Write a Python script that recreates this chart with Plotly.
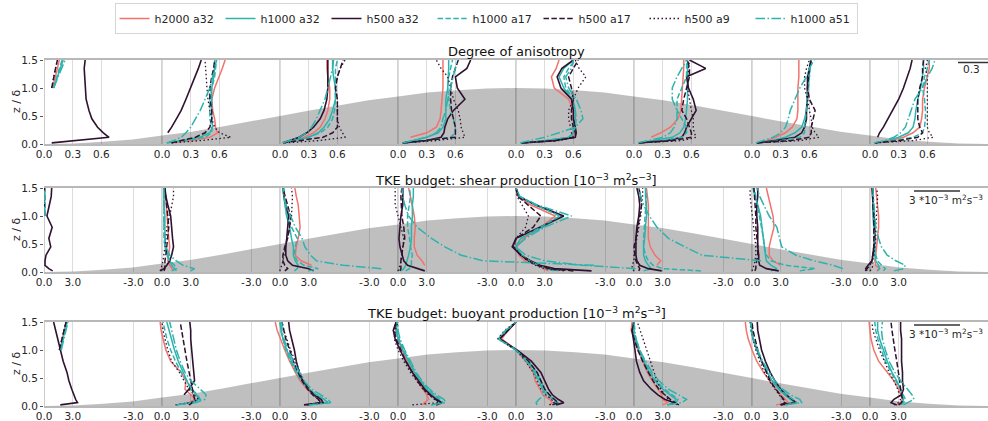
import plotly.graph_objects as go

N = None
# vertical levels (z / delta) shared by all profiles
Z = [0.02, 0.06, 0.12, 0.2, 0.3, 0.45, 0.6, 0.8, 1.0, 1.2, 1.35, 1.5]
# station positions along the hill (profile origins)
STATIONS = [-4, -3, -2, -1, 0, 1, 2, 3]
# hill outline (background)
HILL_X = [-4, -3.75, -3.5, -3.25, -3, -2.75, -2.5, -2.25, -2, -1.75, -1.5, -1.25, -1, -0.75, -0.5, -0.25,
          0, 0.25, 0.5, 0.75, 1, 1.25, 1.5, 1.75, 2, 2.25, 2.5, 2.75, 3, 3.25, 3.5, 3.75, 4]
HILL_Z = [0, 0.01, 0.04, 0.08, 0.15, 0.22, 0.31, 0.40, 0.5, 0.6, 0.69, 0.78, 0.85, 0.92, 0.96, 0.99,
          1.0, 0.99, 0.96, 0.92, 0.85, 0.78, 0.69, 0.6, 0.5, 0.40, 0.31, 0.22, 0.15, 0.08, 0.04, 0.01, 0]

SERIES = ["h2000 a32", "h1000 a32", "h500 a32", "h1000 a17", "h500 a17", "h500 a9", "h1000 a51"]
TOP_ONLY = [N] * 8

# ---------------- Degree of anisotropy ----------------
ANISO_H2000_A32 = [TOP_ONLY + [0.09, 0.12, 0.14, 0.16],
                   [0.1, 0.3, 0.5, 0.58, 0.56, 0.55, 0.53, 0.52, 0.55, 0.6, 0.63, 0.66],
                   [0.03, 0.12, 0.25, 0.35, 0.42, 0.47, 0.5, 0.52, 0.52, 0.5, 0.49, 0.49],
                   [N, N, 0.13, 0.3, 0.4, 0.44, 0.45, 0.46, 0.47, 0.47, 0.47, 0.47],
                   [0.05, 0.35, 0.58, 0.6, 0.6, 0.6, 0.6, 0.55, 0.4, 0.37, 0.42, 0.45],
                   [N, N, 0.18, 0.28, 0.38, 0.46, 0.49, 0.5, 0.51, 0.52, 0.52, 0.52],
                   [0.05, 0.15, 0.25, 0.35, 0.42, 0.47, 0.48, 0.48, 0.48, 0.49, 0.49, 0.49],
                   [0.05, 0.2, 0.35, 0.45, 0.52, 0.54, 0.55, 0.55, 0.57, 0.6, 0.62, 0.62]]
ANISO_H1000_A32 = [TOP_ONLY + [0.1, 0.14, 0.17, 0.2],
                   [0.05, 0.2, 0.4, 0.5, 0.53, 0.52, 0.52, 0.52, 0.52, 0.54, 0.55, 0.55],
                   [0.03, 0.15, 0.3, 0.4, 0.46, 0.52, 0.55, 0.58, 0.58, 0.56, 0.55, 0.55],
                   [0.05, 0.15, 0.3, 0.42, 0.47, 0.5, 0.5, 0.5, 0.52, 0.53, 0.53, 0.53],
                   [0.05, 0.3, 0.57, 0.6, 0.6, 0.62, 0.62, 0.58, 0.5, 0.45, 0.5, 0.6],
                   [0.05, 0.2, 0.4, 0.48, 0.52, 0.54, 0.55, 0.56, 0.56, 0.56, 0.56, 0.56],
                   [0.05, 0.2, 0.35, 0.45, 0.52, 0.55, 0.57, 0.58, 0.58, 0.6, 0.6, 0.62],
                   [0.05, 0.18, 0.3, 0.4, 0.45, 0.47, 0.48, 0.5, 0.53, 0.55, 0.56, 0.56]]
ANISO_H500_A32 = [[0.08, 0.35, 0.68, 0.62, 0.56, 0.5, 0.47, 0.44, 0.43, 0.42, 0.42, 0.43],
                  [N, N, N, 0.06, 0.1, 0.15, 0.2, 0.25, 0.3, 0.35, 0.38, 0.41],
                  [0.03, 0.1, 0.2, 0.28, 0.35, 0.42, 0.46, 0.49, 0.5, 0.5, 0.5, 0.5],
                  [0.05, 0.3, 0.45, 0.48, 0.49, 0.52, 0.58, 0.7, 0.62, 0.6, 0.72, 0.76],
                  [0.07, 0.4, 0.62, 0.63, 0.62, 0.6, 0.6, 0.58, 0.47, 0.43, 0.48, 0.6],
                  [0.05, 0.35, 0.5, 0.53, 0.55, 0.6, 0.65, 0.62, 0.57, 0.55, 0.75, 0.58],
                  [0.05, 0.25, 0.45, 0.52, 0.55, 0.57, 0.57, 0.58, 0.58, 0.58, 0.6, 0.62],
                  [N, N, 0.08, 0.1, 0.14, 0.19, 0.24, 0.3, 0.35, 0.39, 0.42, 0.44]]
ANISO_H1000_A17 = [TOP_ONLY + [0.1, 0.13, 0.16, 0.19],
                   [0.05, 0.25, 0.45, 0.52, 0.52, 0.5, 0.5, 0.5, 0.52, 0.55, 0.56, 0.57],
                   [0.03, 0.15, 0.3, 0.42, 0.5, 0.55, 0.57, 0.58, 0.58, 0.58, 0.58, 0.6],
                   [0.05, 0.3, 0.55, 0.6, 0.6, 0.58, 0.55, 0.53, 0.52, 0.53, 0.55, 0.57],
                   [0.05, 0.3, 0.55, 0.6, 0.62, 0.63, 0.62, 0.6, 0.52, 0.5, 0.55, 0.62],
                   [0.05, 0.3, 0.5, 0.55, 0.55, 0.5, 0.45, 0.45, 0.5, 0.55, 0.55, 0.55],
                   [0.05, 0.3, 0.5, 0.55, 0.55, 0.56, 0.57, 0.58, 0.59, 0.6, 0.61, 0.62],
                   [0.05, 0.25, 0.45, 0.55, 0.57, 0.58, 0.58, 0.57, 0.55, 0.57, 0.6, 0.62]]
ANISO_H500_A17 = [TOP_ONLY + [0.08, 0.1, 0.12, 0.14],
                  [0.1, 0.2, 0.35, 0.45, 0.5, 0.52, 0.52, 0.5, 0.5, 0.52, 0.54, 0.55],
                  [0.03, 0.2, 0.45, 0.55, 0.6, 0.6, 0.6, 0.6, 0.58, 0.6, 0.63, 0.66],
                  [0.05, 0.3, 0.6, 0.6, 0.6, 0.58, 0.56, 0.55, 0.55, 0.57, 0.6, 0.63],
                  [0.06, 0.4, 0.62, 0.62, 0.6, 0.58, 0.58, 0.6, 0.58, 0.55, 0.6, 0.65],
                  [0.05, 0.4, 0.6, 0.6, 0.58, 0.55, 0.5, 0.52, 0.55, 0.58, 0.58, 0.56],
                  [0.05, 0.4, 0.6, 0.62, 0.62, 0.64, 0.66, 0.6, 0.58, 0.59, 0.6, 0.62],
                  [0.05, 0.3, 0.5, 0.55, 0.52, 0.5, 0.5, 0.5, 0.52, 0.55, 0.55, 0.56]]
ANISO_H500_A9 = [TOP_ONLY + [0.08, 0.1, 0.12, 0.14],
                 [0.1, 0.4, 0.72, 0.6, 0.55, 0.52, 0.5, 0.48, 0.47, 0.46, 0.45, 0.45],
                 [0.05, 0.4, 0.68, 0.65, 0.62, 0.6, 0.6, 0.6, 0.58, 0.6, 0.63, 0.68],
                 [0.05, 0.4, 0.7, 0.68, 0.66, 0.65, 0.63, 0.58, 0.55, 0.52, 0.45, 0.4],
                 [0.06, 0.45, 0.6, 0.58, 0.57, 0.55, 0.55, 0.6, 0.65, 0.73, 0.66, 0.62],
                 [0.05, 0.5, 0.65, 0.63, 0.62, 0.62, 0.6, 0.58, 0.56, 0.57, 0.57, 0.58],
                 [0.06, 0.5, 0.7, 0.66, 0.63, 0.62, 0.6, 0.58, 0.55, 0.55, 0.57, 0.6],
                 [0.06, 0.45, 0.66, 0.62, 0.6, 0.6, 0.6, 0.6, 0.6, 0.6, 0.58, 0.6]]
ANISO_H1000_A51 = [TOP_ONLY + [0.1, 0.15, 0.18, 0.22],
                   [0.05, 0.12, 0.2, 0.25, 0.3, 0.35, 0.4, 0.45, 0.5, 0.53, 0.55, 0.57],
                   [0.03, 0.1, 0.2, 0.28, 0.33, 0.38, 0.42, 0.47, 0.5, 0.53, 0.55, 0.56],
                   [0.05, 0.15, 0.3, 0.4, 0.45, 0.47, 0.5, 0.52, 0.55, 0.58, 0.6, 0.62],
                   [0.04, 0.15, 0.3, 0.45, 0.62, 0.7, 0.68, 0.63, 0.55, 0.52, 0.58, 0.6],
                   [0.04, 0.15, 0.3, 0.38, 0.42, 0.45, 0.45, 0.4, 0.4, 0.45, 0.5, 0.55],
                   [0.04, 0.12, 0.22, 0.3, 0.35, 0.38, 0.4, 0.45, 0.5, 0.57, 0.6, 0.65],
                   [0.04, 0.15, 0.25, 0.32, 0.37, 0.4, 0.43, 0.47, 0.55, 0.6, 0.65, 0.68]]

# ---------------- TKE shear production [1e-3 m2 s-3] ----------------
SHEAR_H2000_A32 = [TOP_ONLY + [0.05, 0.05, 0.05, 0.05],
                   [1.2, 1.0, 0.8, 0.6, 0.7, 0.8, 0.7, 0.6, 0.5, 0.4, 0.4, 0.3],
                   [N, N, 3.3, 2.2, 1.6, 1.7, 1.9, 2.1, 2.0, 1.9, 1.7, 1.55],
                   [N, N, 2.8, 2.5, 2.0, 1.7, 1.7, 1.8, 1.7, 1.5, 1.3, 1.1],
                   [3.4, 2.8, 2.4, 0.9, 0.3, 0.1, 0.8, 2.6, 4.1, 1.5, 0.2, 0.0],
                   [N, N, 2.4, 2.8, 2.2, 1.7, 1.5, 1.5, 1.5, 1.5, 1.4, 1.3],
                   [N, N, 3.0, 2.2, 1.8, 1.8, 2.0, 2.3, 2.2, 1.9, 1.7, 1.5],
                   [0.7, 1.0, 0.6, 0.5, 0.6, 0.7, 0.8, 0.9, 0.9, 0.8, 0.7, 0.6]]
SHEAR_H1000_A32 = [TOP_ONLY + [0.05, 0.05, 0.05, 0.05],
                   [1.5, 1.3, 1.0, 0.8, 0.6, 0.4, 0.3, 0.3, 0.3, 0.2, 0.2, 0.2],
                   [1.5, 1.8, 1.9, 1.6, 1.4, 1.4, 1.2, 1.0, 0.7, 0.5, 0.4, 0.4],
                   [0.3, 0.6, 0.8, 0.9, 1.1, 1.3, 1.4, 1.4, 1.5, 1.5, 1.6, 1.6],
                   [4.4, 3.5, 2.5, 1.5, 0.6, 0.0, 0.5, 2.8, 4.8, 2.0, 0.3, 0.0],
                   [1.0, 1.8, 1.5, 1.2, 1.0, 1.0, 1.1, 1.2, 1.3, 1.3, 1.2, 1.2],
                   [2.0, 2.6, 2.0, 1.5, 1.4, 1.3, 1.2, 1.1, 0.9, 0.6, 0.3, 0.1],
                   [0.8, 1.0, 0.9, 0.6, 0.5, 0.5, 0.5, 0.4, 0.3, 0.3, 0.3, 0.3]]
SHEAR_H500_A32 = [[0.9, 0.5, 0.1, 0.1, 0.2, 0.7, 0.5, 0.85, 0.3, 0.6, 0.75, 0.8],
                  [-0.2, 0.2, 0.5, 0.8, 1.0, 1.2, 1.1, 1.0, 0.9, 0.6, 0.4, 0.3],
                  [3.5, 3.0, 1.3, 0.8, 0.6, 0.6, 0.7, 0.8, 0.9, 0.6, 0.4, 0.3],
                  [2.8, 2.0, 1.0, 0.6, 0.45, 0.2, 0.1, 0.2, 0.3, 0.5, 0.5, 0.5],
                  [7.9, 4.0, 2.5, 1.5, 0.5, -0.4, 0.0, 2.5, 5.0, 2.0, 0.3, 0.0],
                  [2.9, 1.5, 0.6, 0.3, 0.2, 0.2, 0.2, 0.3, 0.5, 0.6, 0.5, 0.3],
                  [2.8, 1.5, 0.8, 0.7, 0.7, 0.6, 0.6, 0.6, 0.5, 0.5, 0.6, 0.6],
                  [-0.3, -0.45, -0.2, 0.2, 0.3, 0.4, 0.5, 0.5, 0.4, 0.3, 0.2, 0.2]]
SHEAR_H1000_A17 = [TOP_ONLY + [0.05, 0.05, 0.05, 0.05],
                   [1.0, 1.5, 1.3, 0.8, 0.5, 0.3, 0.2, 0.2, 0.2, 0.2, 0.2, 0.2],
                   [3.0, 4.0, 2.5, 1.8, 1.5, 1.6, 1.8, 1.2, 0.7, 0.5, 0.4, 0.4],
                   [0.8, 1.2, 1.4, 1.4, 1.5, 1.3, 1.2, 1.0, 1.0, 1.2, 1.3, 1.2],
                   [4.0, 3.2, 2.3, 1.4, 0.6, 0.0, 0.5, 2.6, 4.6, 2.0, 0.3, 0.0],
                   [7.0, 3.0, 2.0, 1.5, 1.2, 1.0, 1.0, 1.1, 1.2, 1.3, 1.3, 1.2],
                   [5.0, 6.6, 3.5, 2.0, 1.5, 1.3, 1.2, 1.0, 0.8, 0.6, 0.4, 0.2],
                   [1.4, 1.6, 1.2, 0.8, 0.6, 0.5, 0.5, 0.4, 0.4, 0.3, 0.3, 0.3]]
SHEAR_H500_A17 = [TOP_ONLY + [0.05, 0.05, 0.05, 0.05],
                  [0.2, 0.3, 0.3, 0.3, 0.4, 0.5, 0.6, 0.7, 0.6, 0.5, 0.4, 0.3],
                  [0.5, 0.8, 0.5, 0.3, 0.3, 0.5, 0.8, 1.0, 1.1, 0.8, 0.5, 0.3],
                  [0.2, 0.3, 0.3, 0.3, 0.4, 0.5, 0.7, 0.6, 0.4, 0.3, 0.3, 0.4],
                  [6.0, 3.5, 2.2, 1.3, 0.5, -0.3, 0.0, 1.8, 2.6, 1.2, 0.2, 0.0],
                  [0.5, 0.6, 0.4, 0.2, 0.1, 0.0, 0.2, 0.4, 0.6, 0.8, 0.7, 0.5],
                  [0.3, 0.4, 0.4, 0.5, 0.6, 0.6, 0.5, 0.4, 0.4, 0.3, 0.3, 0.2],
                  [-0.5, -0.3, 0.0, 0.2, 0.3, 0.4, 0.4, 0.4, 0.4, 0.3, 0.3, 0.3]]
SHEAR_H500_A9 = [TOP_ONLY + [0.0, 0.0, 0.0, 0.0],
                 [-0.2, -0.1, 0.0, 0.1, 0.2, 0.3, 0.4, 0.5, 0.8, 1.0, 1.2, 1.2],
                 [0.0, 0.0, 0.2, 0.3, 0.4, 0.6, 0.8, 1.0, 1.2, 1.3, 1.3, 1.2],
                 [0.0, 0.1, 0.2, 0.3, 0.4, 0.5, 0.6, 0.3, 0.0, -0.3, -0.3, -0.3],
                 [5.0, 3.0, 2.0, 1.2, 0.5, -0.2, 0.0, 1.0, 1.3, 0.6, 0.1, 0.0],
                 [0.0, -0.2, -0.2, 0.0, 0.0, 0.1, 0.3, 0.5, 0.7, 0.8, 0.9, 0.9],
                 [0.0, 0.1, 0.2, 0.3, 0.4, 0.4, 0.3, 0.2, 0.1, -0.1, -0.2, -0.2],
                 [0.0, 0.2, 0.3, 0.3, 0.4, 0.5, 0.6, 0.6, 0.7, 0.8, 0.8, 0.7]]
SHEAR_H1000_A51 = [TOP_ONLY + [0.05, 0.05, 0.05, 0.05],
                   [3.0, 3.4, 2.2, 1.5, 0.8, 0.4, 0.3, 0.2, 0.2, 0.2, 0.2, 0.2],
                   [N, 10.6, 6.6, 3.8, 3.2, 2.6, 2.3, 1.6, 1.1, 0.6, 0.4, 0.3],
                   [N, N, 20.5, 8.9, 6.6, 4.9, 3.5, 2.0, 1.1, 0.7, 0.5, 0.4],
                   [N, 12.5, 7.0, 3.0, 1.0, 0.0, 1.0, 3.0, 5.8, 2.2, 0.4, 0.0],
                   [N, N, N, 13.3, 7.1, 5.3, 3.6, 2.4, 1.6, 1.0, 0.7, 0.5],
                   [N, 9.5, 8.5, 6.5, 4.6, 3.1, 2.9, 2.6, 1.8, 1.2, 0.8, 0.5],
                   [2.5, 3.5, 3.7, 2.7, 1.8, 1.2, 0.9, 0.6, 0.5, 0.4, 0.3, 0.3]]

# ---------------- TKE buoyant production [1e-3 m2 s-3] ----------------
BUOY_H2000_A32 = [TOP_ONLY + [1.7, 1.9, 2.1, 2.3],
                  [1.5, 2.8, 3.5, 3.0, 2.4, 2.5, 2.0, 0.9, 0.4, 0.1, -0.1, -0.2],
                  [3.0, 4.5, 4.2, 3.5, 2.8, 2.1, 1.6, 1.0, 0.5, 0.0, -0.3, -0.5],
                  [2.5, 2.8, 3.2, 3.0, 2.6, 2.0, 1.5, 1.0, 0.4, 0.0, -0.2, -0.2],
                  [3.5, 3.8, 3.5, 2.8, 2.5, 2.0, 1.8, 1.0, 0.0, -1.5, -0.8, 0.0],
                  [3.0, 3.5, 3.0, 2.9, 2.5, 1.9, 1.4, 0.9, 0.4, 0.0, -0.3, -0.2],
                  [2.5, 3.8, 3.5, 3.0, 2.5, 1.8, 1.2, 0.5, 0.0, -0.4, -0.6, -0.7],
                  [2.8, 3.2, 3.4, 3.2, 3.0, 2.5, 1.8, 0.9, 0.4, 0.1, 0.0, -0.1]]
BUOY_H1000_A32 = [TOP_ONLY + [1.7, 2.0, 2.2, 2.4],
                  [1.5, 3.0, 3.9, 3.6, 3.0, 2.6, 2.2, 1.7, 1.3, 1.0, 0.8, 0.5],
                  [3.0, 5.0, 4.6, 3.8, 3.0, 2.3, 1.8, 1.2, 0.7, 0.3, 0.1, 0.0],
                  [3.5, 4.5, 4.2, 3.6, 3.0, 2.3, 1.7, 1.1, 0.5, 0.0, -0.2, -0.1],
                  [4.0, 4.4, 4.0, 3.4, 3.0, 2.6, 2.2, 1.3, 0.0, -1.8, -1.0, 0.0],
                  [3.5, 4.2, 4.4, 3.8, 3.0, 2.2, 1.6, 1.0, 0.5, 0.1, -0.1, -0.1],
                  [3.5, 4.5, 4.0, 3.4, 2.8, 2.1, 1.6, 1.0, 0.5, 0.1, 0.0, -0.1],
                  [3.2, 3.4, 3.5, 3.4, 3.2, 2.8, 2.3, 1.8, 1.4, 1.0, 0.8, 0.8]]
BUOY_H500_A32 = [[1.7, 3.5, 3.3, 3.1, 2.9, 2.6, 2.4, 2.0, 1.7, 1.4, 1.2, 1.0],
                 [N, N, N, 2.3, 2.8, 3.4, 3.3, 3.2, 3.1, 3.0, 3.0, 2.9],
                 [2.5, 4.5, 4.3, 3.6, 3.0, 2.4, 2.0, 1.7, 1.5, 1.2, 1.0, 0.9],
                 [4.0, 4.6, 4.0, 3.4, 2.8, 2.1, 1.5, 0.8, 0.2, -0.3, -0.5, -0.2],
                 [4.2, 5.0, 4.4, 3.8, 3.4, 3.0, 2.6, 1.6, 0.1, -1.7, -0.8, 0.0],
                 [4.7, 4.2, 3.2, 2.5, 1.8, 1.0, 0.6, 0.25, 0.1, -0.1, -0.2, 0.0],
                 [3.0, 4.6, 4.2, 3.6, 3.0, 2.4, 1.9, 1.4, 1.0, 0.8, 0.6, 0.55],
                 [2.8, 2.2, 2.5, 3.3, 3.5, 3.4, 3.4, 3.3, 3.3, 3.3, 3.2, 3.2]]
BUOY_H1000_A17 = [TOP_ONLY + [1.7, 2.0, 2.2, 2.4],
                  [1.5, 3.0, 4.0, 3.7, 3.1, 2.6, 2.0, 1.4, 0.9, 0.5, 0.3, 0.1],
                  [3.0, 5.0, 4.6, 3.8, 3.0, 2.2, 1.7, 1.1, 0.6, 0.3, 0.1, 0.0],
                  [3.5, 4.7, 4.4, 3.8, 3.2, 2.4, 1.8, 1.2, 0.6, 0.1, -0.1, -0.1],
                  [4.0, 4.2, 3.8, 3.2, 2.8, 2.4, 2.0, 1.2, 0.0, -1.8, -1.0, 0.0],
                  [3.5, 4.4, 4.6, 4.0, 3.2, 2.3, 1.7, 1.1, 0.6, 0.2, 0.0, 0.0],
                  [3.5, 4.7, 4.3, 3.6, 2.9, 2.1, 1.6, 1.0, 0.5, 0.1, -0.1, -0.1],
                  [3.2, 3.5, 3.7, 3.5, 3.2, 2.7, 2.2, 1.6, 1.2, 0.8, 0.6, 0.5]]
BUOY_H500_A17 = [TOP_ONLY + [1.6, 1.9, 2.1, 2.3],
                 [2.8, 3.2, 3.4, 3.3, 3.2, 3.0, 2.8, 2.6, 2.4, 2.2, 2.0, 1.9],
                 [2.8, 4.3, 4.0, 3.4, 2.9, 2.3, 1.9, 1.4, 1.0, 0.6, 0.4, 0.2],
                 [4.0, 4.5, 3.9, 3.3, 2.7, 2.0, 1.5, 0.8, 0.3, -0.2, -0.4, -0.2],
                 [3.8, 4.4, 4.0, 3.5, 3.0, 2.6, 2.2, 1.3, 0.0, -1.7, -0.9, 0.0],
                 [4.5, 4.3, 3.8, 3.2, 2.6, 2.0, 1.5, 0.9, 0.4, 0.0, -0.2, 0.0],
                 [3.0, 3.5, 3.3, 2.9, 2.5, 1.9, 1.5, 1.0, 0.6, 0.3, 0.1, 0.0],
                 [3.0, 3.3, 3.4, 3.3, 3.2, 3.1, 3.0, 2.8, 2.6, 2.4, 2.3, 2.2]]
BUOY_H500_A9 = [TOP_ONLY + [1.6, 1.9, 2.1, 2.3],
                [1.4, 3.0, 3.8, 3.4, 2.8, 2.3, 1.8, 1.0, 0.6, 0.3, 0.1, 0.0],
                [2.8, 4.2, 4.0, 3.5, 3.0, 2.5, 2.1, 1.6, 1.1, 0.7, 0.4, 0.2],
                [1.5, 4.3, 3.8, 3.2, 2.6, 1.9, 1.3, 0.6, 0.0, -0.4, -0.3, 0.0],
                [3.5, 4.0, 3.7, 3.1, 2.6, 2.2, 1.8, 1.0, 0.0, -1.9, -1.2, 0.0],
                [4.0, 4.0, 3.6, 3.2, 2.8, 2.4, 2.1, 1.7, 1.3, 0.9, 0.6, 0.35],
                [3.0, 3.4, 3.2, 2.8, 2.4, 1.8, 1.3, 0.8, 0.4, 0.1, -0.1, -0.2],
                [2.5, 3.0, 3.2, 3.1, 2.9, 2.5, 2.0, 1.5, 1.0, 0.6, 0.3, 0.2]]
BUOY_H1000_A51 = [TOP_ONLY + [1.8, 2.1, 2.3, 2.5],
                  [1.5, 3.5, 4.5, 4.6, 4.0, 3.0, 2.4, 1.9, 1.5, 1.2, 1.0, 0.8],
                  [3.0, 5.3, 5.0, 4.2, 3.3, 2.5, 2.0, 1.4, 0.8, 0.4, 0.2, 0.2],
                  [3.5, 5.0, 4.8, 4.0, 3.3, 2.5, 1.9, 1.3, 0.7, 0.2, 0.0, 0.0],
                  [2.2, 2.1, 2.4, 3.0, 2.8, 2.3, 1.9, 1.1, 0.0, -1.9, -1.1, 0.0],
                  [3.5, 5.0, 5.5, 4.6, 3.6, 2.6, 1.9, 1.2, 0.6, 0.2, 0.1, 0.0],
                  [3.5, 5.2, 5.0, 4.0, 3.2, 2.4, 1.8, 1.1, 0.6, 0.1, -0.1, -0.1],
                  [3.5, 4.0, 4.6, 4.4, 3.9, 3.2, 2.6, 2.0, 1.6, 1.3, 1.2, 1.3]]

ANISO_TICKS = [0.0, 0.3, 0.6]
BUDGET_TICKS = [-3.0, 0.0, 3.0]

# ---------------- styles ----------------
COLORS = ["#F2736C", "#2DB3AD", "#2F1230", "#2DB3AD", "#2F1230", "#2F1230", "#2DB3AD"]
DASHES = ["solid", "solid", "solid", "5.5px,2.4px", "5.5px,2.4px", "1.5px,2.5px",
          "9.6px,2.4px,1.5px,2.4px"]
WIDTHS = [1.5, 1.5, 1.6, 1.5, 1.5, 1.3, 1.5]
K_ANISO = 0.81     # x-units per unit anisotropy
K_BUDGET = 0.081   # x-units per 1e-3 m2 s-3

W, H, LM = 988, 421, 44


def px_x(px):
    return (px - LM) / (W - LM)


def px_y(py):
    return 1 - py / H


PANELS = [
    dict(data=[ANISO_H2000_A32, ANISO_H1000_A32, ANISO_H500_A32, ANISO_H1000_A17,
               ANISO_H500_A17, ANISO_H500_A9, ANISO_H1000_A51],
         k=K_ANISO, ticks=ANISO_TICKS, title="Degree of anisotropy", top=60, bottom=144,
         title_y=52),
    dict(data=[SHEAR_H2000_A32, SHEAR_H1000_A32, SHEAR_H500_A32, SHEAR_H1000_A17,
               SHEAR_H500_A17, SHEAR_H500_A9, SHEAR_H1000_A51],
         k=K_BUDGET, ticks=BUDGET_TICKS,
         title="TKE budget: shear production [10<sup>−3</sup> m<sup>2</sup>s<sup>−3</sup>]",
         top=188, bottom=272, title_y=180),
    dict(data=[BUOY_H2000_A32, BUOY_H1000_A32, BUOY_H500_A32, BUOY_H1000_A17,
               BUOY_H500_A17, BUOY_H500_A9, BUOY_H1000_A51],
         k=K_BUDGET, ticks=BUDGET_TICKS,
         title="TKE budget: buoyant production [10<sup>−3</sup> m<sup>2</sup>s<sup>−3</sup>]",
         top=322, bottom=406, title_y=313),
]

TXT = "#262626"
FONT = "DejaVu Sans"

fig = go.Figure()
shapes = []
annotations = []

for p, panel in enumerate(PANELS):
    sfx = "" if p == 0 else str(p + 1)
    xa, ya = "x" + sfx, "y" + sfx
    dom = [px_y(panel["bottom"]), px_y(panel["top"])]
    # hill
    fig.add_trace(go.Scatter(x=HILL_X, y=HILL_Z, xaxis=xa, yaxis=ya, mode="lines",
                             line=dict(width=0, color="rgba(0,0,0,0)"), fill="tozeroy",
                             fillcolor="rgba(0,0,0,0.25)", hoverinfo="skip", showlegend=False))
    k = panel["k"]
    for si, name in enumerate(SERIES):
        for st, s0 in enumerate(STATIONS):
            vals = panel["data"][si][st]
            xs = [None if v is None else s0 + k * v for v in vals]
            fig.add_trace(go.Scatter(
                x=xs, y=Z, xaxis=xa, yaxis=ya, mode="lines", name=name,
                legendgroup=name, showlegend=(p == 0 and st == 0),
                line=dict(color=COLORS[si], dash=DASHES[si], width=WIDTHS[si]),
                connectgaps=False, hoverinfo="skip"))
    # ticks
    tv, tt = [], []
    for s0 in STATIONS:
        for t in panel["ticks"]:
            x = s0 + k * t
            if x >= -4.0001:
                tv.append(x)
                tt.append(f"{t:.1f}")
        shapes.append(dict(type="line", xref=xa, yref=ya, x0=s0, x1=s0, y0=0, y1=1.5,
                           line=dict(color="#a3a3a3", width=1), layer="below"))
    fig.update_layout(**{
        "xaxis" + sfx: dict(domain=[0, 1], range=[-4.0005, 4], anchor=ya, tickmode="array",
                            tickvals=tv, ticktext=tt, showgrid=True, gridcolor="#dcdcdc",
                            gridwidth=1, zeroline=False, ticks="",
                            showline=True, mirror=True, linecolor="#b8b8b8",
                            linewidth=1.5, automargin=False,
                            tickfont=dict(size=10.5, color=TXT, family=FONT)),
        "yaxis" + sfx: dict(domain=dom, range=[0, 1.5], anchor=xa,
                            tickmode="array", tickvals=[0, 0.5, 1.0, 1.5],
                            ticktext=["0.0", "0.5", "1.0", "1.5"], showgrid=False,
                            zeroline=False, ticks="outside", ticklen=3, tickcolor="#555",
                            automargin=False,
                            tickfont=dict(size=10.5, color=TXT, family=FONT)),
    })
    annotations.append(dict(text=panel["title"], xref="paper", yref="paper", x=0.5,
                            y=px_y(panel["title_y"]), xanchor="center", yanchor="middle",
                            showarrow=False, font=dict(size=13, color="#111", family=FONT)))
    annotations.append(dict(text="z / δ", xref="paper", yref="paper", x=px_x(16),
                            y=(dom[0] + dom[1]) / 2, xanchor="center", yanchor="middle",
                            textangle=-90, showarrow=False,
                            font=dict(size=11, color=TXT, family=FONT)))

# scale bars (top right of each panel)
shapes.append(dict(type="line", xref="paper", yref="paper", x0=px_x(958), x1=px_x(988),
                   y0=px_y(62.5), y1=px_y(62.5), line=dict(color="#333", width=1.5)))
annotations.append(dict(text="0.3", xref="paper", yref="paper", x=px_x(971), y=px_y(69),
                        xanchor="center", yanchor="middle", showarrow=False,
                        font=dict(size=10.5, color=TXT, family=FONT)))
for top in (188, 322):
    shapes.append(dict(type="line", xref="paper", yref="paper", x0=px_x(914), x1=px_x(960),
                       y0=px_y(top + 3), y1=px_y(top + 3), line=dict(color="#333", width=1.5)))
    annotations.append(dict(text="3 *10<sup>−3</sup> m<sup>2</sup>s<sup>−3</sup>", xref="paper",
                            yref="paper", x=px_x(985), y=px_y(top + 11), xanchor="right",
                            yanchor="middle", showarrow=False,
                            font=dict(size=10.5, color=TXT, family=FONT)))

fig.update_layout(
    width=W, height=H, margin=dict(l=LM, r=0, t=0, b=0, autoexpand=False),
    paper_bgcolor="white", plot_bgcolor="white",
    font=dict(family=FONT, color=TXT),
    shapes=shapes, annotations=annotations,
    legend=dict(orientation="h", x=px_x(486), xanchor="center", y=px_y(3), yanchor="top",
                bordercolor="#d5d5d5", borderwidth=1, bgcolor="white",
                entrywidth=61, tracegroupgap=0,
                font=dict(size=11, color=TXT, family=FONT)),
)

fig.write_html("out.html", config={"displayModeBar": False},
               post_script="document.body.style.margin='0';document.body.style.overflow='hidden';")
